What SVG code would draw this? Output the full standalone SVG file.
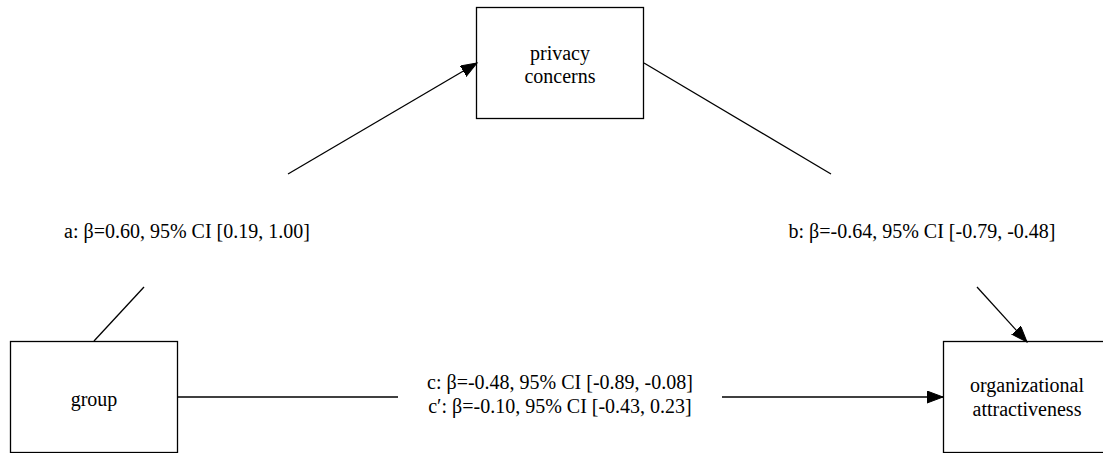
<svg xmlns="http://www.w3.org/2000/svg" width="1103" height="453" viewBox="0 0 1103 453">
<style>
.node rect{fill:#fff;stroke:#000;stroke-width:1.3}
.lbl{font-family:'Liberation Serif','Times New Roman',serif;font-size:20px;fill:#000;text-anchor:middle}
.edge line{stroke:#000;stroke-width:1.3;fill:none}
</style>
<defs>
<marker id="arr" markerUnits="userSpaceOnUse" markerWidth="20" markerHeight="16" refX="16" refY="6" orient="auto">
<path d="M0,0 L16,6 L0,12 Z" fill="#000" stroke="#000" stroke-width="1"/>
</marker>
</defs>
<rect width="1103" height="453" fill="#fff"/>
<g id="privacy" class="node">
<rect x="476.5" y="7.5" width="167" height="111"/>
<text class="lbl" font-family="Liberation Serif, serif" x="560" y="60">privacy</text>
<text class="lbl" font-family="Liberation Serif, serif" x="560" y="83">concerns</text>
</g>
<g id="group" class="node">
<rect x="10.5" y="341.5" width="167" height="111"/>
<text class="lbl" font-family="Liberation Serif, serif" x="94" y="406">group</text>
</g>
<g id="org" class="node">
<rect x="943.5" y="341.5" width="167" height="111"/>
<text class="lbl" font-family="Liberation Serif, serif" x="1027" y="392">organizational</text>
<text class="lbl" font-family="Liberation Serif, serif" x="1027" y="416">attractiveness</text>
</g>
<g id="connectors" class="edge">
<line x1="94" y1="341" x2="144" y2="287"/>
<line x1="288" y1="174" x2="477" y2="63" marker-end="url(#arr)"/>
<line x1="644" y1="63" x2="831" y2="174"/>
<line x1="977" y1="287" x2="1027" y2="342" marker-end="url(#arr)"/>
<line x1="177" y1="397" x2="398" y2="397"/>
<line x1="722" y1="397" x2="943" y2="397" marker-end="url(#arr)"/>
<text class="lbl" font-family="Liberation Serif, serif" x="187" y="238">a: β=0.60, 95% CI [0.19, 1.00]</text>
<text class="lbl" font-family="Liberation Serif, serif" x="922" y="238">b: β=-0.64, 95% CI [-0.79, -0.48]</text>
<text class="lbl" font-family="Liberation Serif, serif" x="560" y="389">c: β=-0.48, 95% CI [-0.89, -0.08]</text>
<text class="lbl" font-family="Liberation Serif, serif" x="560" y="413">c′: β=-0.10, 95% CI [-0.43, 0.23]</text>
</g>
</svg>
